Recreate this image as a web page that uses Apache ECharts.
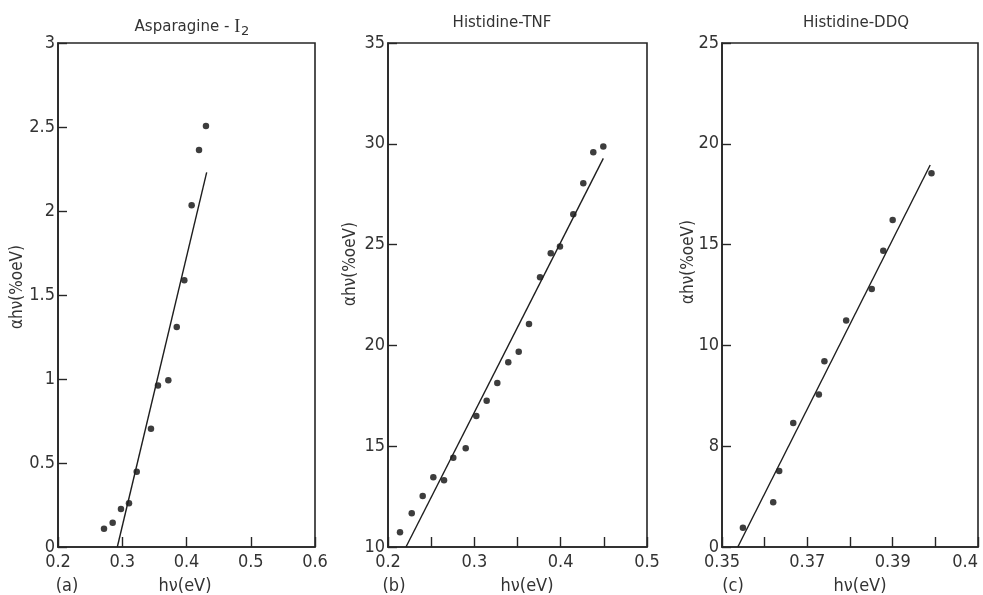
<!DOCTYPE html>
<html>
<head>
<meta charset="utf-8">
<script src="https://cdn.jsdelivr.net/npm/echarts@6/dist/echarts.min.js"></script>
<style>html,body{margin:0;padding:0;background:#fff}#c{width:983px;height:595px}</style>
</head>
<body>
<div id="c"></div>
<script>
// ---- data ----
const titles = ['Asparagine - {i|I}{s|2}', 'Histidine-TNF', 'Histidine-DDQ'];
const panelTags = ['(a)', '(b)', '(c)'];
const xName = 'hν(eV)';
const yName = 'αhν(%oeV)';

const ptsA = [[0.4303,2.506],[0.4195,2.363],[0.408,2.034],[0.3966,1.588],[0.3848,1.31],[0.3717,0.992],[0.3556,0.962],[0.3447,0.704],[0.3225,0.448],[0.3105,0.26],[0.298,0.226],[0.2851,0.145],[0.2716,0.109]];
const fitA = [[0.2923,0],[0.4314,2.23]];

const ptsB = [[0.4494,29.86],[0.4378,29.58],[0.4262,28.04],[0.4146,26.5],[0.3992,24.9],[0.3885,24.57],[0.3761,23.38],[0.3633,21.06],[0.3514,19.69],[0.3393,19.16],[0.3266,18.13],[0.3143,17.26],[0.3023,16.5],[0.29,14.9],[0.2756,14.43],[0.2649,13.31],[0.2525,13.46],[0.2402,12.53],[0.2275,11.67],[0.2139,10.73]];
const fitB = [[0.2208,10],[0.4494,29.28]];

const ptsC = [[0.3991,18.54],[0.39,16.22],[0.3878,14.7],[0.3851,12.8],[0.3791,11.23],[0.374,9.21],[0.3727,7.57],[0.3667,6.15],[0.3634,3.77],[0.362,2.22],[0.3549,0.96]];
const fitC = [[0.3537,0],[0.3988,18.95]];

const xTicksA = ['0.2','0.3','0.4','0.5','0.6'];
const yTicksA = ['0','0.5','1','1.5','2','2.5','3'];
const xTicksB = ['0.2','','0.3','','0.4','','0.5'];
const yTicksB = ['10','15','20','25','30','35'];
const xTicksC = ['0.35','','0.37','','0.39','','0.4'];
const yTicksC = ['0','8','10','15','20','25'];

// ---- chart ----
const FONT = '"Liberation Sans Narrow","DejaVu Sans Condensed","DejaVu Sans",sans-serif';
const INK = '#262626';
const chart = echarts.init(document.getElementById('c'));

const grids = [
  {left:58, right:983-315, top:43, bottom:595-547},
  {left:388, right:983-647, top:43, bottom:595-547},
  {left:722, right:983-978, top:43, bottom:595-547}
];
const xCfg = [
  {min:0.2, max:0.6, interval:0.1, labels:xTicksA},
  {min:0.2, max:0.5, interval:0.05, labels:xTicksB},
  {min:0.35, max:0.41, interval:0.01, labels:xTicksC, alignMax:'right'}
];
const yCfg = [
  {min:0, max:3, interval:0.5, labels:yTicksA},
  {min:10, max:35, interval:5, labels:yTicksB},
  {min:0, max:25, interval:5, labels:yTicksC}
];
const pts = [ptsA, ptsB, ptsC];
const fits = [fitA, fitB, fitC];

const axisLine = {show:true, onZero:false, lineStyle:{color:INK, width:1.6}};
const labelStyle = {color:'#333', fontFamily:FONT, fontSize:18};

const option = {
  backgroundColor:'#fff',
  animation:false,
  title: titles.map((t,i) => ({
    text: t,
    left: [187, 497, 851][i],
    top: 11,
    textAlign: 'center',
    textStyle: {
      fontFamily:'"DejaVu Sans",sans-serif', fontSize:15, fontWeight:'normal', color:'#333',
      rich: {
        i: {fontFamily:'"Liberation Serif","DejaVu Serif",serif', fontSize:18, color:'#333'},
        s: {fontFamily:'"DejaVu Sans",sans-serif', fontSize:13, color:'#333', padding:[9,0,0,1]}
      }
    }
  })),
  grid: grids.map(g => Object.assign({show:true, borderColor:INK, borderWidth:1.6, backgroundColor:'transparent', containLabel:false, outerBoundsMode:'none'}, g)),
  xAxis: xCfg.map((c,i) => {
    const lab = Object.assign({margin:6, showMinLabel:true, showMaxLabel:true, hideOverlap:false, formatter:(v,idx) => c.labels[idx] ?? ''}, labelStyle);
    if (c.alignMax) lab.alignMaxLabel = c.alignMax;
    return {
      type:'value', gridIndex:i, min:c.min, max:c.max, interval:c.interval,
      axisLine, splitLine:{show:false},
      axisTick:{show:true, inside:true, length:10, lineStyle:{color:INK, width:1.4}},
      axisLabel:lab
    };
  }),
  yAxis: yCfg.map((c,i) => ({
    type:'value', gridIndex:i, min:c.min, max:c.max, interval:c.interval,
    axisLine, splitLine:{show:false},
    axisTick:{show:true, inside:true, length:9, lineStyle:{color:INK, width:1.4}},
    axisLabel:Object.assign({margin:3, showMinLabel:true, showMaxLabel:true, formatter:(v,idx) => c.labels[idx] ?? ''}, labelStyle)
  })),
  series: [].concat(
    pts.map((p,i) => ({type:'scatter', xAxisIndex:i, yAxisIndex:i, data:p, symbolSize:6.5, itemStyle:{color:'#0d0d0d'}, silent:true})),
    fits.map((f,i) => ({type:'line', xAxisIndex:i, yAxisIndex:i, data:f, symbol:'none', lineStyle:{color:'#1e1e1e', width:1.4}, silent:true}))
  ),
  graphic: [].concat(
    [[18,287],[351,264],[689,262]].map(p => ({
      type:'text', x:p[0], y:p[1], rotation:Math.PI/2,
      style:{text:yName, fill:'#333', font:'17px ' + FONT, align:'center', verticalAlign:'middle'}
    })),
    [[185,586],[527,586],[860,586]].map(p => ({
      type:'text', x:p[0], y:p[1],
      style:{text:xName, fill:'#333', font:'18px ' + FONT, align:'center', verticalAlign:'middle'}
    })),
    [[67,586],[394,586],[733,586]].map((p,i) => ({
      type:'text', x:p[0], y:p[1],
      style:{text:panelTags[i], fill:'#333', font:'18px ' + FONT, align:'center', verticalAlign:'middle'}
    }))
  )
};
chart.setOption(option);
</script>
</body>
</html>
